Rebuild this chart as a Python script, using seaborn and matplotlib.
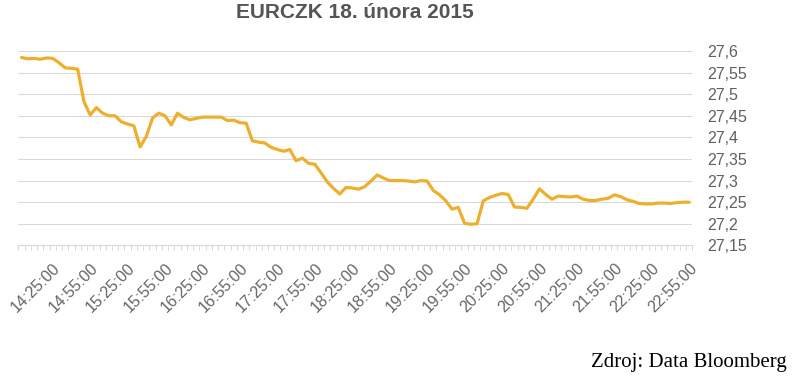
import numpy as np
import pandas as pd
import seaborn as sns
import matplotlib.pyplot as plt
from matplotlib.ticker import FixedLocator, FuncFormatter

# EUR/CZK intraday quotes, 5-minute steps from 14:00 to 22:55
rate = [
    27.585, 27.582, 27.583, 27.581, 27.584, 27.583, 27.573, 27.561, 27.560, 27.558,
    27.483, 27.452, 27.469, 27.456, 27.450, 27.450, 27.436, 27.431, 27.427, 27.378,
    27.402, 27.445, 27.456, 27.450, 27.429, 27.456, 27.446, 27.441, 27.444, 27.447,
    27.447, 27.447, 27.447, 27.439, 27.440, 27.434, 27.433, 27.392, 27.389, 27.387,
    27.377, 27.372, 27.368, 27.372, 27.346, 27.352, 27.340, 27.338, 27.318, 27.297,
    27.282, 27.269, 27.284, 27.283, 27.280, 27.286, 27.299, 27.313, 27.306, 27.300,
    27.300, 27.300, 27.299, 27.297, 27.300, 27.299, 27.277, 27.267, 27.253, 27.234,
    27.238, 27.201, 27.199, 27.200, 27.253, 27.261, 27.266, 27.270, 27.268, 27.239,
    27.238, 27.236, 27.257, 27.281, 27.268, 27.257, 27.264, 27.263, 27.262, 27.264,
    27.257, 27.254, 27.254, 27.257, 27.259, 27.267, 27.263, 27.256, 27.252, 27.247,
    27.246, 27.246, 27.248, 27.248, 27.247, 27.249, 27.250, 27.250,
]
times = [f"{14 + (5 * i) // 60}:{(5 * i) % 60:02d}:00" for i in range(len(rate))]
y_ticks = [27.15, 27.2, 27.25, 27.3, 27.35, 27.4, 27.45, 27.5, 27.55, 27.6]

df = pd.DataFrame({"idx": np.arange(len(rate)), "time": times, "rate": rate})

sns.set_style("white")
plt.rcParams["font.family"] = ["Liberation Sans", "DejaVu Sans"]

W, H = 796, 384
fig = plt.figure(figsize=(W / 100, H / 100), dpi=100)
top_px, bottom_px = 46.7, 245.4
left_px, right_px = 18.4, 692.3
ax = fig.add_axes([left_px / W, 1 - bottom_px / H,
                   (right_px - left_px) / W, (bottom_px - top_px) / H])

sns.lineplot(data=df, x="idx", y="rate", ax=ax, color="#ECB02E", linewidth=2.3)

ax.set_xlim(-0.5, len(rate) - 0.5)
ax.set_ylim(27.15, 27.61)

# x labels every 30 minutes, small ticks between categories
label_idx = list(range(5, len(rate), 6))
ax.xaxis.set_major_locator(FixedLocator(label_idx))
ax.set_xticklabels([times[i] for i in label_idx])
ax.xaxis.set_minor_locator(FixedLocator(np.arange(-0.5, len(rate), 1.0)))
ax.tick_params(axis="x", which="major", length=0, pad=11, labelsize=11.5,
               labelcolor="#666666")
ax.tick_params(axis="x", which="minor", length=3.6, width=0.7, color="#d8d8d8",
               direction="out", bottom=True)
for lab in ax.get_xticklabels():
    lab.set_rotation(45)
    lab.set_ha("right")
    lab.set_va("top")
    lab.set_rotation_mode("anchor")

ax.yaxis.tick_right()
ax.yaxis.set_major_locator(FixedLocator(y_ticks))
ax.yaxis.set_major_formatter(FuncFormatter(
    lambda v, p: f"{v:.2f}".rstrip("0").rstrip(".").replace(".", ",")))
ax.tick_params(axis="y", length=0, pad=11, labelsize=11.5, labelcolor="#606060")
for lab in ax.get_yticklabels():
    lab.set_ha("left")

ax.grid(axis="y", color="#d8d8d8", linewidth=0.75)
ax.grid(axis="x", visible=False)
for s in ["top", "left", "right"]:
    ax.spines[s].set_visible(False)
ax.spines["bottom"].set_color("#d8d8d8")
ax.spines["bottom"].set_linewidth(0.75)
ax.set_xlabel("")
ax.set_ylabel("")

fig.text(355 / W, 1 - 13 / H, "EURCZK 18. února 2015", ha="center", va="center",
         fontsize=15, fontweight="bold", color="#555555")
fig.text(787 / W, 1 - 362 / H, "Zdroj: Data Bloomberg", ha="right", va="center",
         fontsize=15, family=["Liberation Serif", "DejaVu Serif"], color="black")

fig.savefig("out.png", dpi=100)
